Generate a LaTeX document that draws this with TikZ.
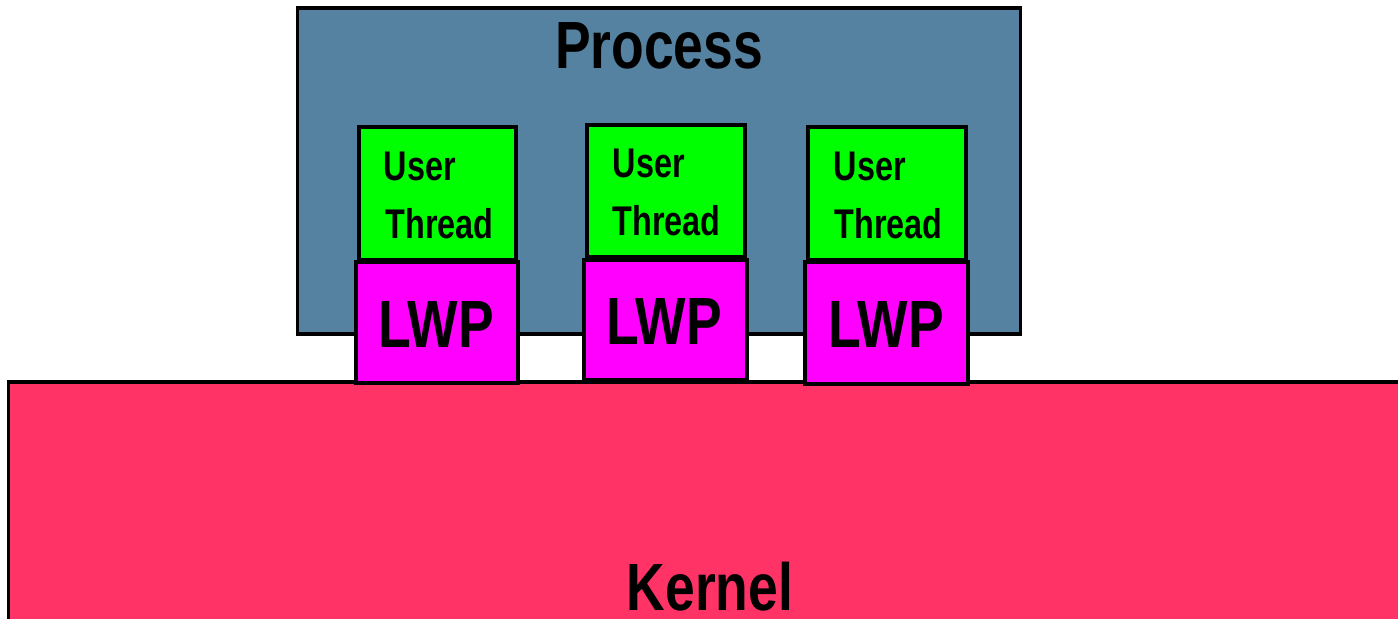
\documentclass[tikz,border=0pt]{standalone}
\usepackage{fontspec}
\newfontfamily\labfont[FakeStretch=0.8]{Liberation Sans}
\newfontfamily\smallfont[FakeStretch=0.78]{Liberation Sans}
\definecolor{procblue}{RGB}{85,130,160}
\definecolor{kernred}{RGB}{255,51,102}
\definecolor{utgreen}{RGB}{0,255,0}
\definecolor{lwpmag}{RGB}{255,0,255}
\begin{document}
\begin{tikzpicture}[x=0.01cm,y=-0.01cm,
  box/.style={draw=black,line width=0.033cm,inner sep=0pt,rectangle},
  big/.style={inner sep=0pt,font=\labfont\bfseries\fontsize{19pt}{19pt}\selectfont},
  small/.style={inner sep=0pt,anchor=base west,font=\smallfont\bfseries\fontsize{11.8pt}{11.8pt}\selectfont}]
\useasboundingbox (0,0) rectangle (1398,618);
\clip (0,0) rectangle (1398,618);
% boxes
\node[box,fill=procblue,minimum width=7.22cm,minimum height=3.26cm] (proc) at (659,171) {};
\node[box,fill=kernred,minimum width=14.11cm,minimum height=2.58cm] (kern) at (714.5,511) {};
\node[box,fill=utgreen,minimum width=1.57cm,minimum height=1.33cm] (ut1) at (437.5,193.5) {};
\node[box,fill=utgreen,minimum width=1.58cm,minimum height=1.32cm] (ut2) at (666,191) {};
\node[box,fill=utgreen,minimum width=1.58cm,minimum height=1.33cm] (ut3) at (887,193.5) {};
\node[box,fill=lwpmag,minimum width=1.62cm,minimum height=1.21cm] (lwp1) at (437,322.5) {};
\node[box,fill=lwpmag,minimum width=1.63cm,minimum height=1.20cm] (lwp2) at (665.5,320) {};
\node[box,fill=lwpmag,minimum width=1.63cm,minimum height=1.22cm] (lwp3) at (886.5,323) {};
% labels
\node[big,anchor=base] (proctxt) at (659,68) {Process};
\node[big,anchor=base] (kerntxt) at (710,610) {Kernel};
\node[big,anchor=base] (lwp1txt) at (436,347) {LWP};
\node[big,anchor=base] (lwp2txt) at (664,344) {LWP};
\node[big,anchor=base] (lwp3txt) at (886,347) {LWP};
\node[small] (u1) at (383,180) {User};
\node[small] (t1) at (385,238) {Thread};
\node[small] (u2) at (612,177) {User};
\node[small] (t2) at (612,235) {Thread};
\node[small] (u3) at (833,180) {User};
\node[small] (t3) at (834,238) {Thread};
\end{tikzpicture}
\end{document}
